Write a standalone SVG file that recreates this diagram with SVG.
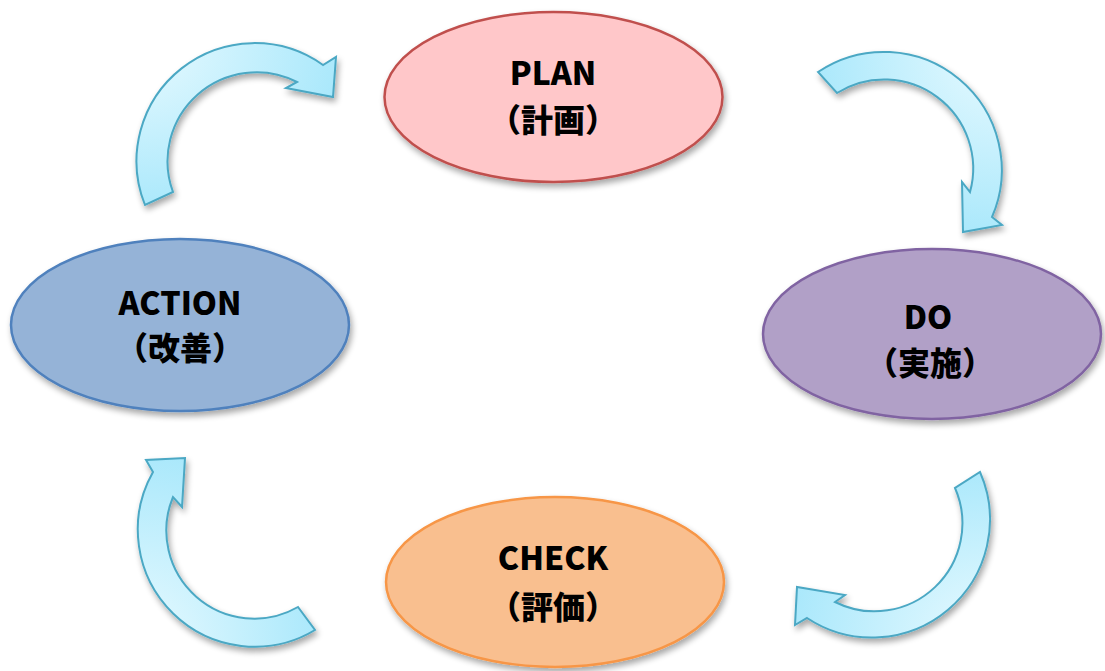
<svg xmlns="http://www.w3.org/2000/svg" width="1105" height="671" viewBox="0 0 1105 671">
<style>
.node ellipse{stroke-width:2.5}
.t1{font-family:"Noto Sans CJK JP","Noto Sans",sans-serif;font-weight:900;font-size:32px;fill:#000;text-anchor:middle}
.arrow{stroke:#4ba8c4;stroke-width:2;stroke-linejoin:miter}
</style>
<defs>
<filter id="sh" x="-20%" y="-20%" width="140%" height="150%">
<feGaussianBlur in="SourceAlpha" stdDeviation="3"/>
<feOffset dx="2" dy="4" result="b"/>
<feComponentTransfer><feFuncA type="linear" slope="0.35"/></feComponentTransfer>
<feMerge><feMergeNode/><feMergeNode in="SourceGraphic"/></feMerge>
</filter>
<radialGradient id="g1" cx="0" cy="0" r="1.1"><stop offset="0" stop-color="#e8faff"/><stop offset="1" stop-color="#a6e7fb"/></radialGradient>
<radialGradient id="g2" cx="1" cy="0" r="1.1"><stop offset="0" stop-color="#e8faff"/><stop offset="1" stop-color="#a6e7fb"/></radialGradient>
<radialGradient id="g3" cx="1" cy="1" r="1.1"><stop offset="0" stop-color="#e8faff"/><stop offset="1" stop-color="#a6e7fb"/></radialGradient>
<radialGradient id="g4" cx="0" cy="1" r="1.1"><stop offset="0" stop-color="#e8faff"/><stop offset="1" stop-color="#a6e7fb"/></radialGradient>
</defs>
<g id="connectors" filter="url(#sh)">
<path class="arrow" fill="url(#g1)" d="M145,205 A118,118 0 0 1 323,65 L336,57 L333,97 L286,88 L297,82 A89,89 0 0 0 173,192 Z"/>
<path class="arrow" fill="url(#g2)" d="M818,72 A118,118 0 0 1 992,217 L1002,225 L963,232 L962,182 L970,192 A89,89 0 0 0 837,93 Z"/>
<path class="arrow" fill="url(#g3)" d="M980,472 A118,118 0 0 1 807,618 L795,625 L797,587 L845,595 L835,602 A88,88 0 0 0 955,488 Z"/>
<path class="arrow" fill="url(#g4)" d="M315,630 A117,117 0 0 1 153,472 L146,460 L185,458 L182,507 L173,497 A88,88 0 0 0 298,607 Z"/>
</g>
<g id="plan" class="node">
<ellipse cx="553.5" cy="97" rx="169" ry="85" fill="#ffc7c9" stroke="#c0504d" filter="url(#sh)"/>
<text class="t1" x="553" y="85">PLAN</text>
<text class="t1" x="553" y="132">（計画）</text>
</g>
<g id="do" class="node">
<ellipse cx="932" cy="334" rx="169" ry="85" fill="#b1a0c7" stroke="#8064a2" filter="url(#sh)"/>
<text class="t1" x="928" y="329">DO</text>
<text class="t1" x="930" y="375">（実施）</text>
</g>
<g id="check" class="node">
<ellipse cx="555" cy="582" rx="169" ry="85" fill="#f9bf8f" stroke="#f79646" filter="url(#sh)"/>
<text class="t1" x="553" y="570">CHECK</text>
<text class="t1" x="553" y="619">（評価）</text>
</g>
<g id="action" class="node">
<ellipse cx="180" cy="325" rx="169" ry="86" fill="#95b3d7" stroke="#4f81bd" filter="url(#sh)"/>
<text class="t1" x="180" y="315">ACTION</text>
<text class="t1" x="180" y="360">（改善）</text>
</g>
</svg>
